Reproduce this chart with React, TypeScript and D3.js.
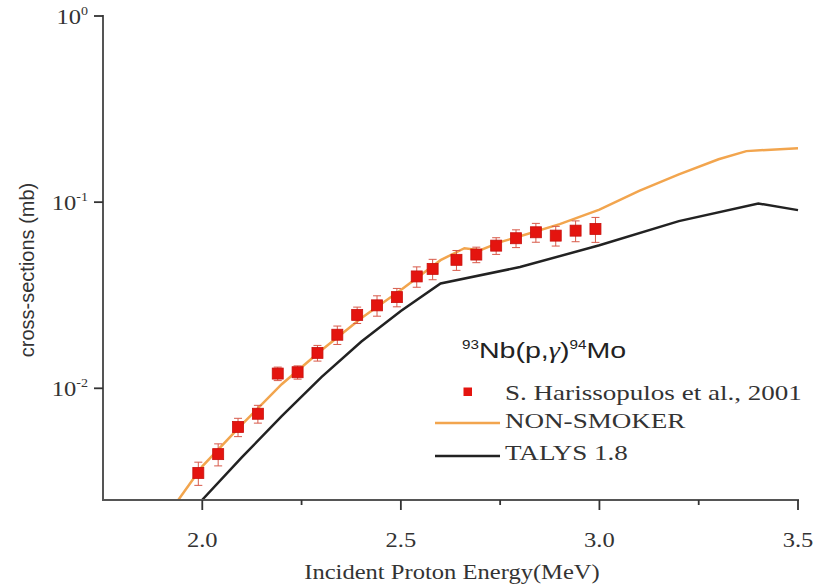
import React from "react";
import * as d3 from "d3";

// Experimental data: S. Harissopulos et al., 2001
const expEnergy = [1.99, 2.04, 2.09, 2.14, 2.19, 2.24, 2.29, 2.34, 2.39, 2.44, 2.49, 2.54, 2.58, 2.64, 2.69, 2.74, 2.79, 2.84, 2.89, 2.94, 2.99];
const expXS = [0.00351, 0.00443, 0.0062, 0.0073, 0.012, 0.0122, 0.0155, 0.0194, 0.0248, 0.0279, 0.0309, 0.0399, 0.0438, 0.049, 0.0523, 0.0584, 0.064, 0.0689, 0.0661, 0.0703, 0.0718];
const expErr = [0.0005, 0.0006, 0.0007, 0.0008, 0.001, 0.001, 0.0015, 0.0022, 0.0025, 0.0035, 0.0035, 0.005, 0.0055, 0.006, 0.005, 0.006, 0.007, 0.008, 0.008, 0.009, 0.011];

// NON-SMOKER
const nonSmokerE = [1.94, 2.0, 2.1, 2.2, 2.3, 2.4, 2.5, 2.6, 2.66, 2.7, 2.75, 2.8, 2.9, 3.0, 3.1, 3.2, 3.3, 3.37, 3.5];
const nonSmokerXS = [0.00252, 0.00381, 0.0064, 0.01052, 0.016, 0.0238, 0.0337, 0.0488, 0.0566, 0.0552, 0.061, 0.0656, 0.0762, 0.0912, 0.115, 0.141, 0.17, 0.188, 0.195];

// TALYS 1.8
const talysE = [2.0, 2.1, 2.2, 2.3, 2.4, 2.5, 2.6, 2.8, 3.0, 3.2, 3.4, 3.5];
const talysXS = [0.00252, 0.00427, 0.00708, 0.01148, 0.01778, 0.026, 0.0366, 0.0448, 0.0587, 0.0791, 0.0984, 0.0906];

// Axes ticks
const xTicks = [2.0, 2.5, 3.0, 3.5];
const xTickLabels = ["2.0", "2.5", "3.0", "3.5"];
const xMinorTicks = [2.25, 2.75, 3.25];
const yTicks = [1, 0.1, 0.01];
const yTickExps = ["0", "-1", "-2"];

const legendLabels = ["S. Harissopulos et al., 2001", "NON-SMOKER", "TALYS 1.8"];

const W = 818;
const H = 586;
const SERIF = "'Liberation Serif', 'Times New Roman', serif";
const SANS = "'Liberation Sans', Arial, sans-serif";
const ORANGE = "#f2a54e";
const BLACK = "#222222";
const RED = "#e4140f";
const AXIS = "#555555";

export default function App() {
  const x = d3.scaleLinear().domain([1.75, 3.5]).range([103, 798]);
  const y = d3.scaleLog().domain([Math.pow(10, -2.6), 1]).range([500, 16]);

  const line = d3
    .line<[number, number]>()
    .x((d) => x(d[0]))
    .y((d) => y(d[1]));

  const nsData: [number, number][] = nonSmokerE.map((e, i) => [e, nonSmokerXS[i]]);
  const talysData: [number, number][] = talysE.map((e, i) => [e, talysXS[i]]);

  const sx = 1.17;

  return (
    <svg
      width={W}
      height={H}
      style={{ position: "absolute", left: 0, top: 0, background: "#fff" }}
    >
      <rect x={0} y={0} width={W} height={H} fill="#fff" />
      <defs>
        <clipPath id="plotclip">
          <rect x={103} y={10} width={700} height={490} />
        </clipPath>
      </defs>

      {/* curves */}
      <g clipPath="url(#plotclip)">
        <path d={line(nsData) || ""} fill="none" stroke={ORANGE} strokeWidth={2.5} />
        <path d={line(talysData) || ""} fill="none" stroke={BLACK} strokeWidth={2.5} />
      </g>

      {/* experimental points */}
      <g>
        {expEnergy.map((e, i) => {
          const cx = x(e);
          const cy = y(expXS[i]);
          const y1 = y(expXS[i] + expErr[i]);
          const y2 = y(expXS[i] - expErr[i]);
          return (
            <g key={i}>
              <line x1={cx} x2={cx} y1={y1} y2={y2} stroke="#d85a4a" strokeWidth={1} />
              <line x1={cx - 4} x2={cx + 4} y1={y1} y2={y1} stroke="#d85a4a" strokeWidth={1} />
              <line x1={cx - 4} x2={cx + 4} y1={y2} y2={y2} stroke="#d85a4a" strokeWidth={1} />
              <rect x={cx - 5.5} y={cy - 5.5} width={11} height={11} fill={RED} stroke="#c8100c" strokeWidth={0.8} />
            </g>
          );
        })}
      </g>

      {/* axes */}
      <g>
        <line x1={103} x2={103} y1={15} y2={501} stroke={AXIS} strokeWidth={2} />
        <line x1={102} x2={799} y1={500} y2={500} stroke={AXIS} strokeWidth={2} />
        {xTicks.map((t, i) => (
          <g key={"xt" + i}>
            <line x1={x(t)} x2={x(t)} y1={500} y2={510} stroke="#333" strokeWidth={1.8} />
            <text
              transform={`translate(${x(t)},547) scale(${sx},1)`}
              textAnchor="middle"
              fontFamily={SERIF}
              fontSize={21}
              fill="#333"
            >
              {xTickLabels[i]}
            </text>
          </g>
        ))}
        {xMinorTicks.map((t, i) => (
          <line key={"xm" + i} x1={x(t)} x2={x(t)} y1={500} y2={505} stroke="#333" strokeWidth={1.8} />
        ))}
        {yTicks.map((t, i) => (
          <g key={"yt" + i}>
            <line x1={94} x2={103} y1={y(t)} y2={y(t)} stroke="#333" strokeWidth={1.8} />
            <text
              transform={`translate(88,${y(t) + 8}) scale(${sx},1)`}
              textAnchor="end"
              fontFamily={SERIF}
              fontSize={21}
              fill="#333"
            >
              10
              <tspan fontSize={12} dy={-9}>
                {yTickExps[i]}
              </tspan>
            </text>
          </g>
        ))}
        <text
          transform={`translate(34,270) rotate(-90)`}
          textAnchor="middle"
          fontFamily={SANS}
          fontSize={20}
          fill="#333"
        >
          cross-sections (mb)
        </text>
        <text
          transform={`translate(452,579) scale(${sx},1)`}
          textAnchor="middle"
          fontFamily={SERIF}
          fontSize={21}
          fill="#333"
        >
          Incident Proton Energy(MeV)
        </text>
      </g>

      {/* legend */}
      <g>
        <text transform={`translate(462,358) scale(1.27,1)`} fontFamily={SANS} fontSize={22.5} fill="#222">
          <tspan fontSize={12} dy={-9}>93</tspan>
          <tspan dy={9}>Nb(p,</tspan>
          <tspan fontFamily={SERIF} fontStyle="italic">γ</tspan>
          <tspan>)</tspan>
          <tspan fontSize={12} dy={-9}>94</tspan>
          <tspan dy={9}>Mo</tspan>
        </text>
        <rect x={463.5} y={387.5} width={8.5} height={8.5} fill={RED} />
        <text transform={`translate(505,400) scale(1.23,1)`} fontFamily={SERIF} fontSize={22} fill="#333">
          {legendLabels[0]}
        </text>
        <line x1={435} x2={500} y1={423} y2={423} stroke={ORANGE} strokeWidth={2.5} />
        <text transform={`translate(505,428) scale(1.23,1)`} fontFamily={SERIF} fontSize={22} fill="#333">
          {legendLabels[1]}
        </text>
        <line x1={435} x2={500} y1={456} y2={456} stroke={BLACK} strokeWidth={2.5} />
        <text transform={`translate(505,460) scale(1.23,1)`} fontFamily={SERIF} fontSize={22} fill="#333">
          {legendLabels[2]}
        </text>
      </g>
    </svg>
  );
}
